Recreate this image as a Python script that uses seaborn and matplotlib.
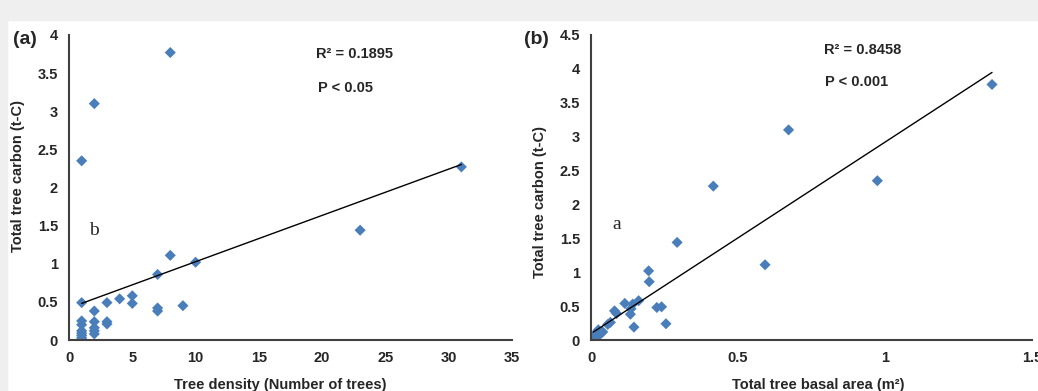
import numpy as np
import pandas as pd
import matplotlib
matplotlib.use('Agg')
import matplotlib.pyplot as plt
import seaborn as sns
from matplotlib.patches import Rectangle

# Panel (a): tree density vs total tree carbon
density = [1, 1, 1, 1, 1, 1, 1, 1, 1,
           2, 2, 2, 2, 2, 2,
           3, 3, 3, 4, 5, 5, 7, 7, 7, 8, 8, 9, 10, 23, 31]
carbon_a = [2.35, 0.49, 0.25, 0.20, 0.12, 0.09, 0.06, 0.03, 0.01,
            3.10, 0.38, 0.24, 0.16, 0.12, 0.08,
            0.49, 0.24, 0.21, 0.54, 0.58, 0.48, 0.86, 0.42, 0.38, 3.77, 1.11, 0.45, 1.02, 1.44, 2.27]

# Panel (b): total basal area vs total tree carbon
basal = [1.364, 0.672, 0.974, 0.416, 0.293, 0.592, 0.196, 0.198, 0.115, 0.142,
         0.162, 0.080, 0.087, 0.134, 0.136, 0.224, 0.240, 0.146, 0.255, 0.066,
         0.057, 0.008, 0.010, 0.012, 0.015, 0.020, 0.025, 0.030, 0.035, 0.040]
carbon_b = [3.77, 3.10, 2.35, 2.27, 1.44, 1.11, 1.02, 0.86, 0.54, 0.53,
            0.58, 0.43, 0.39, 0.38, 0.46, 0.48, 0.49, 0.19, 0.24, 0.26,
            0.23, 0.01, 0.03, 0.06, 0.09, 0.12, 0.15, 0.08, 0.11, 0.12]

xticks_a = [0, 5, 10, 15, 20, 25, 30, 35]
yticks_a = [0, 0.5, 1, 1.5, 2, 2.5, 3, 3.5, 4]
xticks_b = [0, 0.5, 1, 1.5]
yticks_b = [0, 0.5, 1, 1.5, 2, 2.5, 3, 3.5, 4, 4.5]

df_a = pd.DataFrame({'x': density, 'y': carbon_a})
df_b = pd.DataFrame({'x': basal, 'y': carbon_b})

sns.set_style('white')
plt.rcParams['font.family'] = ['Liberation Sans', 'DejaVu Sans']

blue = '#4A7EBB'
axis_col = '#404040'

fig = plt.figure(figsize=(10.38, 3.91), dpi=100)
# grey page band on top and left
fig.patches.append(Rectangle((0, 1 - 20 / 391), 1, 20 / 391, transform=fig.transFigure,
                             color='#EFEFEF', zorder=-1))
fig.patches.append(Rectangle((0, 0), 7 / 1038, 1, transform=fig.transFigure,
                             color='#EFEFEF', zorder=-1))

ax1 = fig.add_axes([69 / 1038, 51 / 391, 443 / 1038, 305 / 391])
ax2 = fig.add_axes([591 / 1038, 51 / 391, 441 / 1038, 305 / 391])

for ax, df in [(ax1, df_a), (ax2, df_b)]:
    sns.regplot(data=df, x='x', y='y', ax=ax, ci=None, marker='D',
                scatter_kws={'s': 32, 'color': blue, 'edgecolor': 'none', 'alpha': 1},
                line_kws={'color': 'black', 'lw': 1.0})
    ax.set_facecolor('none')
    for s in ['top', 'right']:
        ax.spines[s].set_visible(False)
    for s in ['left', 'bottom']:
        ax.spines[s].set_color(axis_col)
        ax.spines[s].set_linewidth(1.5)
    ax.tick_params(length=0, labelsize=10.5, pad=8)


def fmt(v):
    return ('%g' % v)


ax1.set_xlim(0, 35)
ax1.set_ylim(0, 4)
ax1.set_xticks(xticks_a)
ax1.set_xticklabels([fmt(v) for v in xticks_a], fontweight='bold')
ax1.set_yticks(yticks_a)
ax1.set_yticklabels([fmt(v) for v in yticks_a], fontweight='bold')
ax1.set_xlabel('Tree density (Number of trees)', fontsize=10.5, fontweight='bold')
ax1.set_ylabel('Total tree carbon (t-C)', fontsize=10.5, fontweight='bold')
ax1.xaxis.set_label_coords(0.476, -0.125)
ax1.yaxis.set_label_coords(-0.099, 0.538)
ax1.text(19.5, 3.75, 'R² = 0.1895', fontsize=10.5, fontweight='bold', va='center')
ax1.text(19.7, 3.30, 'P < 0.05', fontsize=10.5, fontweight='bold', va='center')
ax1.text(1.97, 1.43, 'b', fontsize=14, family='Liberation Serif', ha='center', va='center')

ax2.set_xlim(0, 1.5)
ax2.set_ylim(0, 4.5)
ax2.set_xticks(xticks_b)
ax2.set_xticklabels([fmt(v) for v in xticks_b], fontweight='bold')
ax2.set_yticks(yticks_b)
ax2.set_yticklabels([fmt(v) for v in yticks_b], fontweight='bold')
ax2.set_xlabel('Total tree basal area (m²)', fontsize=10.5, fontweight='bold')
ax2.set_ylabel('Total tree carbon (t-C)', fontsize=10.5, fontweight='bold')
ax2.xaxis.set_label_coords(0.515, -0.125)
ax2.yaxis.set_label_coords(-0.10, 0.452)
ax2.text(0.794, 4.28, 'R² = 0.8458', fontsize=10.5, fontweight='bold', va='center')
ax2.text(0.797, 3.81, 'P < 0.001', fontsize=10.5, fontweight='bold', va='center')
ax2.text(0.086, 1.70, 'a', fontsize=14, family='Liberation Serif', ha='center', va='center')

fig.text(13 / 1038, 1 - 40 / 391, '(a)', fontsize=14, fontweight='bold', va='center')
fig.text(524 / 1038, 1 - 40 / 391, '(b)', fontsize=14, fontweight='bold', va='center')

fig.savefig('out.png', dpi=100)
